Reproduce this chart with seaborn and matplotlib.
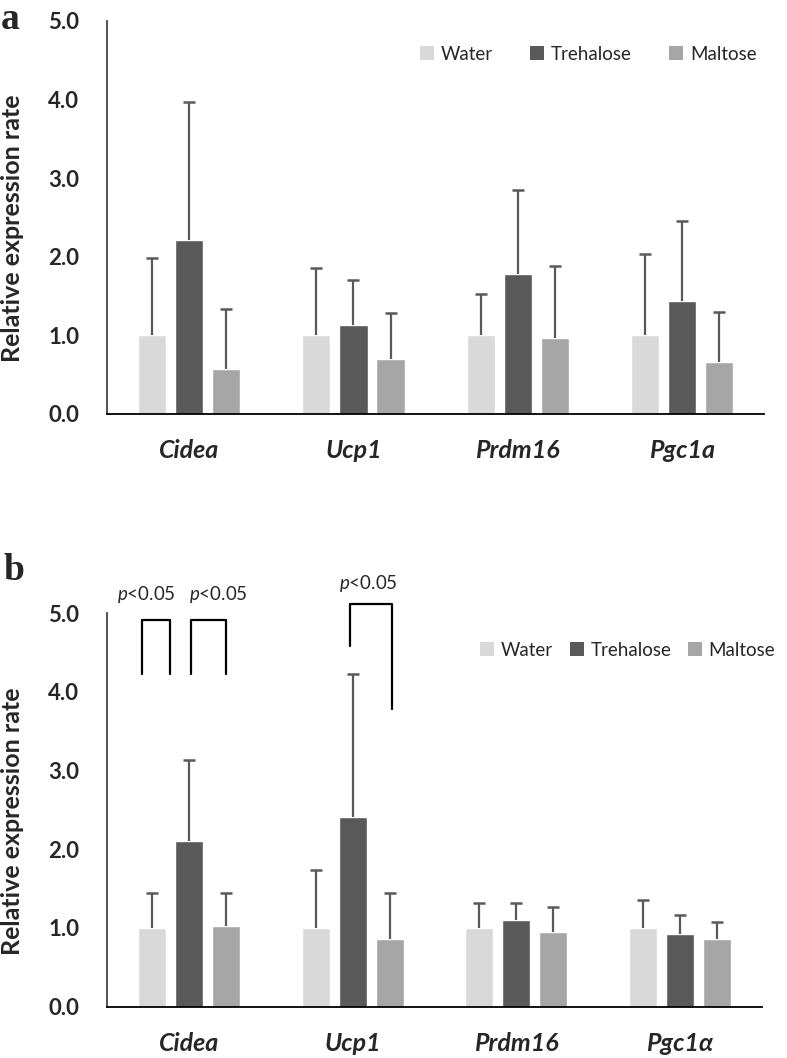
import numpy as np
import pandas as pd
import matplotlib
matplotlib.use("Agg")
import matplotlib.pyplot as plt
from matplotlib.patches import Patch
import seaborn as sns

genes_a = ["Cidea", "Ucp1", "Prdm16", "Pgc1a"]
genes_b = ["Cidea", "Ucp1", "Prdm16", "Pgc1\u03b1"]
groups = ["Water", "Trehalose", "Maltose"]

# Panel a: means and upper error bar tops
a_water = [1.00, 1.00, 1.00, 1.00]
a_treh = [2.21, 1.13, 1.78, 1.44]
a_malt = [0.57, 0.70, 0.97, 0.66]
a_water_top = [1.98, 1.86, 1.53, 2.04]
a_treh_top = [3.97, 1.70, 2.85, 2.45]
a_malt_top = [1.34, 1.28, 1.88, 1.30]

# Panel b
b_water = [1.00, 1.00, 1.00, 1.00]
b_treh = [2.11, 2.41, 1.10, 0.92]
b_malt = [1.02, 0.86, 0.95, 0.86]
b_water_top = [1.45, 1.74, 1.32, 1.36]
b_treh_top = [3.13, 4.23, 1.32, 1.16]
b_malt_top = [1.45, 1.44, 1.27, 1.08]

yticks = [0.0, 1.0, 2.0, 3.0, 4.0, 5.0]
colors = ["#D9D9D9", "#595959", "#A6A6A6"]
sig_text = "$p$<0.05"

sns.set_theme(style="white")
plt.rcParams["font.family"] = ["Lato", "DejaVu Sans"]
plt.rcParams["mathtext.fontset"] = "custom"
plt.rcParams["mathtext.it"] = "Lato:italic"
plt.rcParams["mathtext.rm"] = "Lato"

fig = plt.figure(figsize=(7.87, 10.58), dpi=100)


def panel(rect, genes, means, tops, legend_spacing, legend_anchor):
    ax = fig.add_axes(rect)
    df = pd.DataFrame({
        "gene": [g for g in genes for _ in groups],
        "group": [grp for _ in genes for grp in groups],
        "value": [means[j][i] for i in range(len(genes)) for j in range(3)],
    })
    sns.barplot(data=df, x="gene", y="value", hue="group", order=genes,
                hue_order=groups, palette=colors, width=0.678, gap=0.24,
                errorbar=None, ax=ax, legend=False, saturation=1)
    bar_containers = list(ax.containers)[:3]
    for j, cont in enumerate(bar_containers):
        for i, bar in enumerate(cont.patches):
            xc = bar.get_x() + bar.get_width() / 2
            m = means[j][i]
            t = tops[j][i]
            ax.errorbar([xc], [m], yerr=[[0], [t - m]], fmt="none",
                        ecolor="#595959", elinewidth=1.6, capsize=0,
                        zorder=3)
            ax.plot([xc], [t], marker="_", markersize=8.5, mew=1.8,
                    color="#595959", zorder=3)
    ax.set_xlim(-0.5, 3.5)
    ax.set_ylim(0, 5)
    ax.set_yticks(yticks)
    ax.set_yticklabels([f"{v:.1f}" for v in yticks], fontsize=16,
                       fontweight="bold")
    ax.set_xticks(range(len(genes)))
    ax.set_xticklabels(genes, fontsize=18, fontweight="bold", style="italic")
    ax.tick_params(axis="both", length=0)
    ax.tick_params(axis="y", pad=20)
    ax.tick_params(axis="x", pad=18)
    ax.set_xlabel("")
    ax.set_ylabel("Relative expression rate", fontsize=18, fontweight="bold")
    ax.yaxis.set_label_coords(-0.127, 0.472)
    for s in ["top", "right"]:
        ax.spines[s].set_visible(False)
    ax.spines["left"].set_color("#444444")
    ax.spines["left"].set_linewidth(1.3)
    ax.spines["bottom"].set_color("#000000")
    ax.spines["bottom"].set_linewidth(1.3)
    handles = [Patch(facecolor=c, edgecolor="none", label=g)
               for c, g in zip(colors, groups)]
    ax.legend(handles=handles, ncol=3, frameon=False, fontsize=13.5,
              handlelength=0.75, handleheight=0.75, handletextpad=0.35,
              columnspacing=legend_spacing, loc="center right",
              bbox_to_anchor=legend_anchor, borderaxespad=0)
    return ax


ax_a = panel([0.136, 0.6087, 0.835, 0.3715], genes_a,
             [a_water, a_treh, a_malt], [a_water_top, a_treh_top, a_malt_top],
             2.0, (1.0, 0.915))
ax_b = panel([0.136, 0.0485, 0.832, 0.3721], genes_b,
             [b_water, b_treh, b_malt], [b_water_top, b_treh_top, b_malt_top],
             0.9, (1.032, 0.905))

# significance brackets in panel b (data coordinates)
brackets = [
    (-0.286, -0.116, 4.23, 4.23, 4.91),
    (0.011, 0.228, 4.23, 4.23, 4.91),
    (0.987, 1.240, 4.58, 3.78, 5.11),
]
labels_pos = [(-0.259, 5.23), (0.177, 5.23), (1.097, 5.38)]
for (x1, x2, y1, y2, yt) in brackets:
    ax_b.plot([x1, x1, x2, x2], [y1, yt, yt, y2], color="black", lw=1.6,
              clip_on=False, zorder=5)
for (x, y) in labels_pos:
    ax_b.text(x, y, sig_text, ha="center", va="center", fontsize=13.5,
              clip_on=False)

fig.text(0.001, 0.998, "a", fontsize=27, fontweight="bold",
         family="Liberation Serif", ha="left", va="top")
fig.text(0.004, 0.477, "b", fontsize=27, fontweight="bold",
         family="Liberation Serif", ha="left", va="top")

fig.savefig("out.png", dpi=100)
